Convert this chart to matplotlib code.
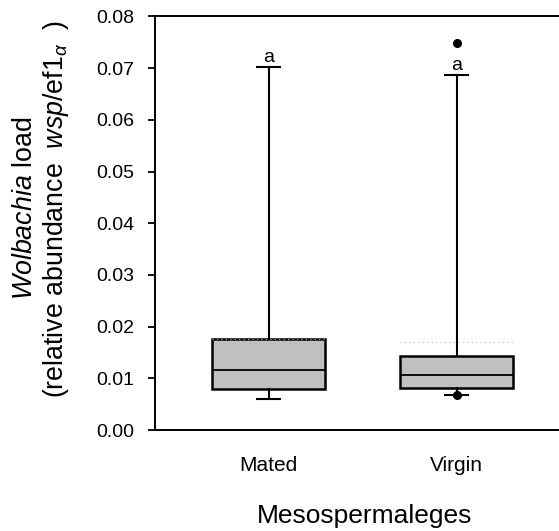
import matplotlib
matplotlib.use("Agg")
import matplotlib.pyplot as plt

plt.rcParams['font.family'] = ['Liberation Sans', 'DejaVu Sans']
plt.rcParams['mathtext.fontset'] = 'custom'
plt.rcParams['mathtext.rm'] = 'Liberation Sans'
plt.rcParams['mathtext.it'] = 'Liberation Sans:italic'

categories = ["Mated", "Virgin"]
whisker_low = [0.0061, 0.0068]
q1 = [0.0079, 0.0082]
median = [0.0117, 0.0106]
q3 = [0.0176, 0.0143]
whisker_high = [0.0703, 0.0687]
means = [0.0177, 0.0170]
outliers = [[], [0.0748, 0.0068]]
letters = ["a", "a"]
yticks = [0.00, 0.01, 0.02, 0.03, 0.04, 0.05, 0.06, 0.07, 0.08]

fig = plt.figure(figsize=(5.59, 5.31), dpi=100)
ax = fig.add_axes([0.277, 0.19, 0.751, 0.779])

stats = []
for i, c in enumerate(categories):
    stats.append(dict(label=c, whislo=whisker_low[i], q1=q1[i], med=median[i],
                      q3=q3[i], whishi=whisker_high[i], mean=means[i],
                      fliers=outliers[i]))

positions = [1, 2]
ax.bxp(stats, positions=positions, widths=0.6, patch_artist=True,
       showmeans=True, meanline=True,
       boxprops=dict(facecolor='#c0c0c0', edgecolor='black', linewidth=1.8),
       medianprops=dict(color='black', linewidth=1.3),
       whiskerprops=dict(color='black', linewidth=1.5),
       capprops=dict(color='black', linewidth=1.5),
       capwidths=0.12,
       meanprops=dict(color='#bbbbbb', linestyle=(0, (1, 3)), linewidth=0.8),
       flierprops=dict(marker='o', markerfacecolor='black', markeredgecolor='black',
                       markersize=5.5))

for i, p in enumerate(positions):
    ax.text(p, whisker_high[i] + 0.0002, letters[i], ha='center', va='bottom', fontsize=14)

ax.set_xlim(0.394, 2.628)
ax.set_ylim(0, 0.08)
ax.set_yticks(yticks)
ax.set_yticklabels([f"{t:.2f}" for t in yticks], fontsize=14)
ax.set_xticks(positions)
ax.set_xticklabels(categories, fontsize=15)
ax.tick_params(axis='x', length=0, pad=18.5)
ax.tick_params(axis='y', direction='out', length=5, width=1.3, pad=10)
ax.spines['right'].set_visible(False)
for s in ['left', 'bottom', 'top']:
    ax.spines[s].set_linewidth(1.4)

ax.set_xlabel("Mesospermaleges", fontsize=19, labelpad=21)
ax.set_ylabel("$\\it{Wolbachia}$ load\n(relative abundance  $\\it{wsp}$/ef1$_{\\alpha}$  )",
              fontsize=19.3, linespacing=1.15)
ax.yaxis.set_label_coords(-0.199, 0.535)

fig.savefig("out.png", dpi=100)
